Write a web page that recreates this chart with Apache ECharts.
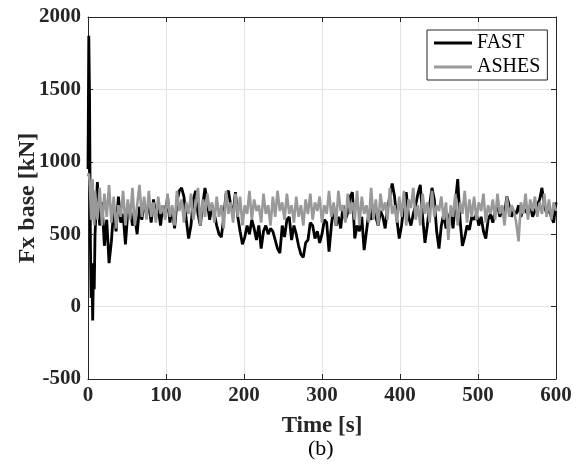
<!DOCTYPE html>
<html>
<head>
<meta charset="utf-8">
<script src="https://cdn.jsdelivr.net/npm/echarts@6/dist/echarts.min.js"></script>
<style>html,body{margin:0;padding:0;background:#fff}#c{width:576px;height:465px}</style>
</head>
<body>
<div id="c"></div>
<script>
var time = [
  0,1,2,3,4,5,6,7,8,9,
  12,15,18,21,24,27,30,33,36,39,
  42,45,48,51,54,57,60,63,66,69,
  72,75,78,81,84,87,90,93,96,99,
  102,105,108,111,114,117,120,123,126,129,
  132,135,138,141,144,147,150,153,156,159,
  162,165,168,171,174,177,180,183,186,189,
  192,195,198,201,204,207,210,213,216,219,
  222,225,228,231,234,237,240,243,246,249,
  252,255,258,261,264,267,270,273,276,279,
  282,285,288,291,294,297,300,303,306,309,
  312,315,318,321,324,327,330,333,336,339,
  342,345,348,351,354,357,360,363,366,369,
  372,375,378,381,384,387,390,393,396,399,
  402,405,408,411,414,417,420,423,426,429,
  432,435,438,441,444,447,450,453,456,459,
  462,465,468,471,474,477,480,483,486,489,
  492,495,498,501,504,507,510,513,516,519,
  522,525,528,531,534,537,540,543,546,549,
  552,555,558,561,564,567,570,573,576,579,
  582,585,588,591,594,597,600
];
var fast = [
  950,1870,1450,480,60,300,-95,250,120,500,
  860,560,720,420,600,300,450,680,520,760,
  580,640,430,650,700,560,620,500,690,600,
  720,640,700,580,740,620,680,560,700,620,
  760,580,680,540,720,800,820,760,600,470,
  560,740,800,640,560,700,820,720,600,700,
  640,560,500,480,620,780,800,700,640,790,
  620,520,430,480,560,500,600,540,460,560,
  400,520,560,500,540,520,460,400,370,560,
  480,600,620,460,560,500,420,360,340,440,
  460,580,560,470,520,440,500,600,580,380,
  560,690,560,620,540,700,600,650,760,790,
  470,560,520,620,390,520,650,600,700,620,
  560,660,620,540,680,760,850,760,600,470,
  560,700,790,620,560,640,700,780,840,620,
  440,560,700,820,740,520,400,560,640,540,
  600,660,540,720,880,600,420,480,560,530,
  620,600,640,560,620,520,470,600,640,580,
  660,700,620,680,640,760,700,620,660,640,
  700,620,680,660,640,700,620,660,700,740,
  820,700,640,680,620,580,720
];
var ashes = [
  900,920,870,760,600,820,880,640,560,800,
  600,820,560,780,620,840,580,760,540,700,
  620,800,560,740,600,820,560,700,840,620,
  760,600,800,620,720,580,760,640,700,600,
  780,620,700,560,800,660,740,580,720,640,
  780,600,700,820,560,740,620,780,660,720,
  580,760,620,700,540,800,640,720,580,780,
  620,760,560,700,640,800,600,740,660,700,
  580,780,640,700,560,760,620,800,660,720,
  600,780,640,700,580,760,620,700,560,740,
  640,780,600,720,660,760,580,700,640,800,
  620,720,560,800,660,700,580,780,640,720,
  600,800,560,760,640,700,580,820,600,740,
  560,780,660,720,600,820,640,700,580,760,
  620,800,560,740,680,820,600,700,560,780,
  640,720,580,800,620,700,660,760,600,720,
  460,700,620,780,560,720,640,800,580,740,
  620,760,600,720,660,780,580,700,640,740,
  600,780,640,700,560,760,620,700,660,580,
  450,720,640,780,600,740,660,760,620,720,
  640,780,620,740,600,720,660
];
var seriesNames = ['FAST', 'ASHES'];
var xTitle = 'Time [s]';
var yTitle = 'Fx base [kN]';
var caption = '(b)';

function pairs(t, v) { return t.map(function (x, i) { return [x, v[i]]; }); }

var FONT = '"Liberation Serif", "Times New Roman", serif';
var AX = '#262626';
var chart = echarts.init(document.getElementById('c'), null, { renderer: 'canvas' });
var labelStyle = { fontFamily: FONT, fontWeight: 'bold', fontSize: 21, color: AX,
  formatter: function (v) { return String(v); } };
chart.setOption({
  animation: false,
  backgroundColor: '#fff',
  grid: { left: 88, right: 20, top: 17, bottom: 86, show: false },
  legend: {
    left: 427, top: 30, orient: 'vertical',
    padding: [3, 7, 3, 7], itemGap: 4,
    itemWidth: 38, itemHeight: 3,
    borderColor: AX, borderWidth: 1, backgroundColor: '#fff',
    textStyle: { fontFamily: FONT, fontSize: 20, color: '#000' },
    data: [{ name: seriesNames[0], icon: 'rect' }, { name: seriesNames[1], icon: 'rect' }]
  },
  xAxis: [{
    type: 'value', min: 0, max: 600, interval: 100, position: 'bottom',
    name: xTitle, nameLocation: 'middle', nameGap: 36, nameMoveOverlap: false,
    nameTextStyle: { fontFamily: FONT, fontWeight: 'bold', fontSize: 23, color: AX },
    axisLine: { show: true, onZero: false, lineStyle: { color: AX, width: 1 } },
    axisTick: { show: true, inside: true, length: 5, lineStyle: { color: AX } },
    axisLabel: Object.assign({ margin: 6 }, labelStyle),
    splitLine: { show: true, lineStyle: { color: '#e3e3e3', width: 1 } }
  }, {
    type: 'value', min: 0, max: 600, interval: 100, position: 'top',
    axisLine: { show: true, onZero: false, lineStyle: { color: AX, width: 1 } },
    axisTick: { show: true, inside: true, length: 5, lineStyle: { color: AX } },
    axisLabel: { show: false }, splitLine: { show: false }
  }],
  yAxis: [{
    type: 'value', min: -500, max: 2000, interval: 500, position: 'left',
    name: yTitle, nameLocation: 'middle', nameGap: 48, nameRotate: 90, nameMoveOverlap: false,
    nameTextStyle: { fontFamily: FONT, fontWeight: 'bold', fontSize: 24, color: AX },
    axisLine: { show: true, onZero: false, lineStyle: { color: AX, width: 1 } },
    axisTick: { show: true, inside: true, length: 5, lineStyle: { color: AX } },
    axisLabel: Object.assign({ margin: 7 }, labelStyle),
    splitLine: { show: true, lineStyle: { color: '#e3e3e3', width: 1 } }
  }, {
    type: 'value', min: -500, max: 2000, interval: 500, position: 'right',
    axisLine: { show: true, onZero: false, lineStyle: { color: AX, width: 1 } },
    axisTick: { show: true, inside: true, length: 5, lineStyle: { color: AX } },
    axisLabel: { show: false }, splitLine: { show: false }
  }],
  graphic: [{
    type: 'text', left: 308, top: 438,
    style: { text: caption, font: '22px ' + FONT, fill: '#000' }
  }],
  series: [{
    name: seriesNames[0], type: 'line', data: pairs(time, fast),
    xAxisIndex: 0, yAxisIndex: 0,
    symbol: 'none', lineStyle: { color: '#000', width: 2.8 }, itemStyle: { color: '#000' }
  }, {
    name: seriesNames[1], type: 'line', data: pairs(time, ashes),
    xAxisIndex: 0, yAxisIndex: 0,
    symbol: 'none', lineStyle: { color: '#999999', width: 2.6 }, itemStyle: { color: '#999999' }
  }]
});
</script>
</body>
</html>
